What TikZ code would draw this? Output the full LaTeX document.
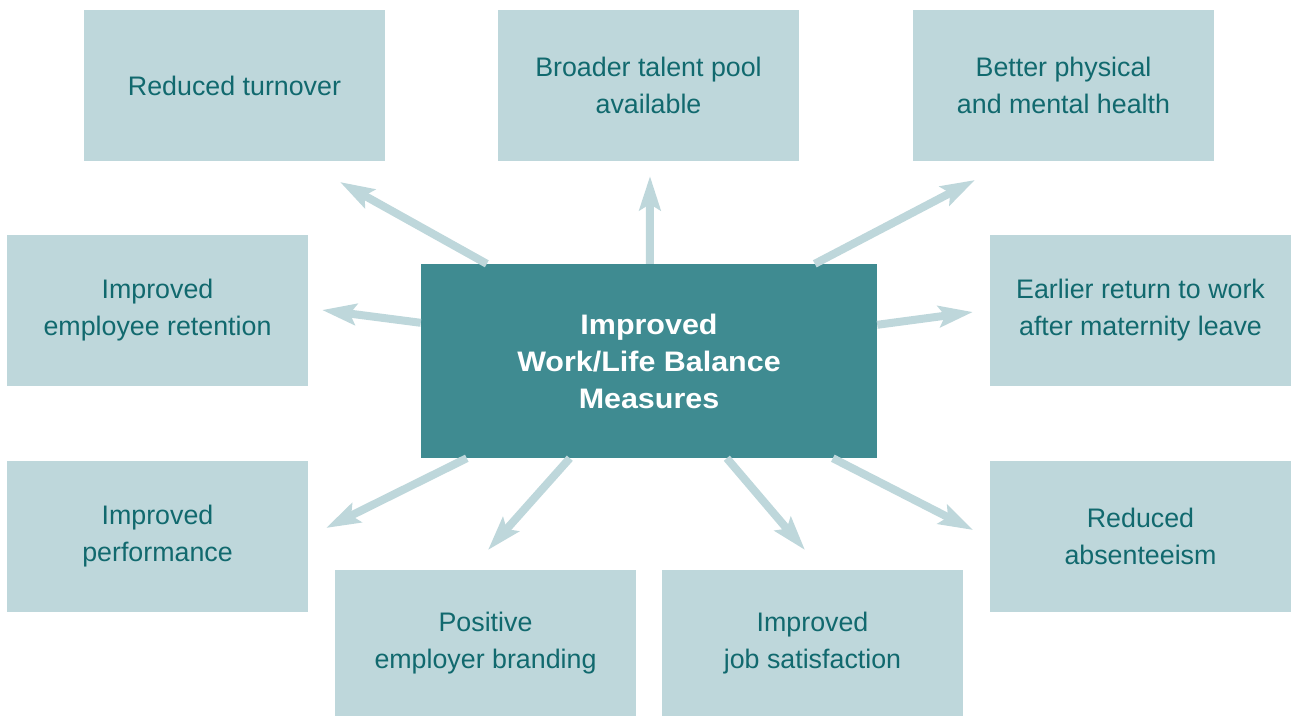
\documentclass[tikz,border=0pt]{standalone}
\usepackage{fontspec}
\setmainfont{Liberation Sans}
\newfontfamily\centerfont[FakeStretch=1.08]{Liberation Sans}
\usetikzlibrary{arrows.meta}
\definecolor{boxfill}{HTML}{BED7DB}
\definecolor{centerfill}{HTML}{3F8B91}
\definecolor{txt}{HTML}{11696E}
\tikzset{
  box/.style={fill=boxfill, inner sep=0pt, minimum width=301pt, minimum height=151pt,
    align=center, text=txt, font=\fontsize{26.8}{37}\selectfont},
  lowbox/.style={box, minimum height=146pt},
  center/.style={fill=centerfill, inner sep=0pt, minimum width=456pt, minimum height=194pt,
    align=center, text=white, font=\centerfont\fontsize{28.2}{37}\selectfont\bfseries},
  arr/.style={draw=boxfill, line width=8pt, line cap=butt,
    -{Stealth[length=34pt, width=21pt, inset=6pt]}}
}
\begin{document}
\begin{tikzpicture}[x=1pt,y=-1pt]
\useasboundingbox (0,0) rectangle (1292,716);
\node[box] (b1) at (234.5,85.5) {Reduced turnover};
\node[box] (b2) at (648.5,85.5) {Broader talent pool\\available};
\node[box] (b3) at (1063.5,85.5) {Better physical\\and mental health};
\node[box] (b4) at (157.5,310.5) {Improved\\employee retention};
\node[box] (b5) at (1140.5,310.5) {Earlier return to work\\after maternity leave};
\node[box] (b6) at (157.5,536.5) {Improved\\performance};
\node[box] (b9) at (1140.5,536.5) {Reduced\\absenteeism};
\node[lowbox] (b7) at (485.5,643) {Positive\\employer branding};
\node[lowbox] (b8) at (812.5,643) {Improved\\job satisfaction};
\node[center] (c) at (649,361) {Improved\\Work/Life Balance\\Measures};
\coordinate (t1) at (340,182);
\coordinate (t2) at (650,176);
\coordinate (t3) at (975,180);
\coordinate (t4) at (322,310);
\coordinate (t5) at (973,312);
\coordinate (t6) at (326,528);
\coordinate (t7) at (488,550);
\coordinate (t8) at (805,550);
\coordinate (t9) at (973,530);
\draw[arr] ([xshift=66pt]c.north west) -- (t1);
\draw[arr] ([xshift=229pt]c.north west) -- (t2);
\draw[arr] ([xshift=394pt]c.north west) -- (t3);
\draw[arr] ([yshift=-59pt]c.north west) -- (t4);
\draw[arr] ([yshift=-61pt]c.north east) -- (t5);
\draw[arr] ([xshift=46pt]c.south west) -- (t6);
\draw[arr] ([xshift=149pt]c.south west) -- (t7);
\draw[arr] ([xshift=306pt]c.south west) -- (t8);
\draw[arr] ([xshift=412pt]c.south west) -- (t9);
\end{tikzpicture}
\end{document}
